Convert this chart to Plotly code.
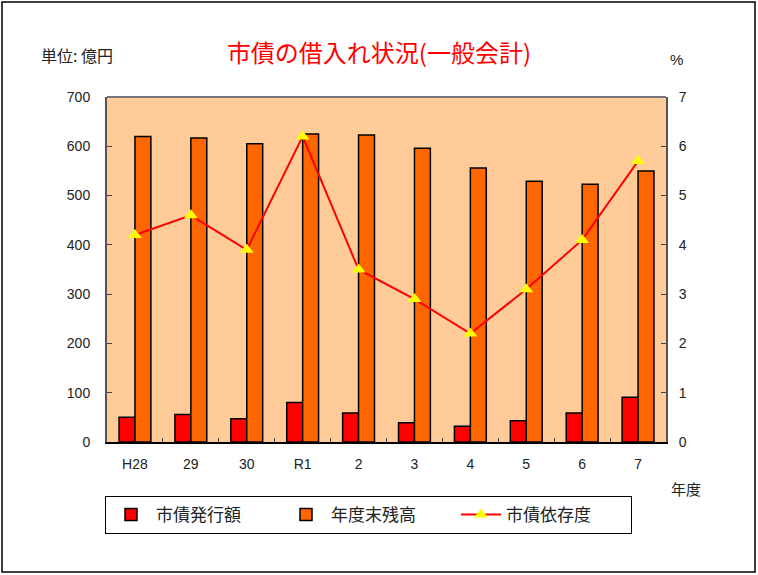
import plotly.graph_objects as go

years = ["H28", "29", "30", "R1", "2", "3", "4", "5", "6", "7"]
issued = [50, 56, 47, 80, 59, 39, 32, 43, 59, 91]
balance = [620, 617, 605, 625, 623, 596, 556, 529, 523, 550]
dependency = [4.2, 4.6, 3.9, 6.2, 3.5, 2.9, 2.2, 3.1, 4.1, 5.7]

FONT = "Liberation Sans, Arial, Noto Sans CJK JP"
JP = "Noto Sans CJK JP"

fig = go.Figure()
fig.add_trace(go.Bar(x=years, y=issued, name="市債発行額",
                     marker=dict(color="#FF0000", line=dict(color="black", width=1.5))))
fig.add_trace(go.Bar(x=years, y=balance, name="年度末残高",
                     marker=dict(color="#FF6600", line=dict(color="black", width=1.5))))
fig.add_trace(go.Scatter(x=years, y=dependency, name="市債依存度", yaxis="y2",
                         mode="lines+markers",
                         line=dict(color="#FF0000", width=2),
                         marker=dict(symbol="triangle-up", color="#FFFF00", size=12)))

fig.update_layout(
    width=758, height=575,
    margin=dict(l=107, r=92, t=97, b=133),
    paper_bgcolor="white",
    plot_bgcolor="#FFCC99",
    font=dict(family=FONT, size=14, color="#222"),
    barmode="group", bargap=0.43, bargroupgap=0,
    title=dict(text="市債の借入れ状況(一般会計)", x=0.5, xanchor="center", y=0.907, yanchor="middle",
               font=dict(family=JP, size=24, color="#FF0000")),
    xaxis=dict(type="category", range=[-0.5, 9.5], tickson="boundaries", ticks="inside", ticklen=4,
               tickcolor="#444", showline=True, linecolor="black", linewidth=2,
               tickfont=dict(size=14), ticklabelstandoff=8),
    yaxis=dict(range=[0, 700], dtick=100, ticks="inside", ticklen=5, tickcolor="#444",
               showline=True, linecolor="#555", linewidth=2, showgrid=False, zeroline=False,
               tickfont=dict(size=14), ticklabelstandoff=12),
    yaxis2=dict(range=[0, 7], dtick=1, overlaying="y", side="right", ticks="inside",
                ticklen=5, tickcolor="#444", showline=True, linecolor="#555", linewidth=2,
                showgrid=False, zeroline=False, tickfont=dict(size=14), ticklabelstandoff=8),
    legend=dict(orientation="h", x=-2/559, xanchor="left", y=-54/345, yanchor="top",
                bordercolor="black", borderwidth=1, bgcolor="white",
                font=dict(family=JP, size=17, color="#222"),
                traceorder="normal", itemwidth=40, entrywidth=120, entrywidthmode="pixels"),
    showlegend=True,
)

# top border of plot area
fig.add_shape(type="line", xref="paper", yref="paper", x0=0, x1=1, y0=1, y1=1,
              line=dict(color="#777", width=2))
# outer frame
fig.add_shape(type="rect", xref="paper", yref="paper",
              x0=-105/559, x1=1 + 89/559, y0=-130/345, y1=1 + 95/345,
              line=dict(color="black", width=1.5))

fig.add_annotation(text="単位: 億円", xref="paper", yref="paper", x=-68/559, y=1 + 42/345,
                   showarrow=False, xanchor="left", yanchor="middle",
                   font=dict(family=JP, size=16, color="#222"))
fig.add_annotation(text="%", xref="paper", yref="paper", x=1 + 2/559, y=1 + 38/345,
                   showarrow=False, xanchor="left", yanchor="middle",
                   font=dict(size=15, color="#222"))
fig.add_annotation(text="年度", xref="paper", yref="paper", x=1 + 3/559, y=-46/345,
                   showarrow=False, xanchor="left", yanchor="middle",
                   font=dict(family=JP, size=15, color="#222"))

fig.write_html("out.html")
